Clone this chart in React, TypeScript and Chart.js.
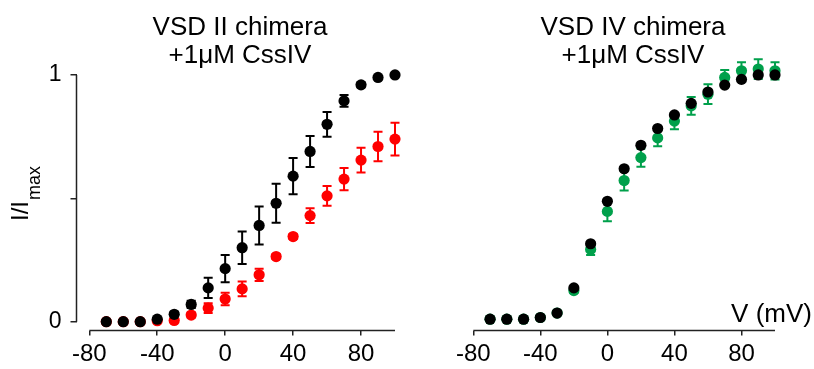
import { useEffect, useRef } from 'react';
import { Chart, registerables } from 'chart.js';

Chart.register(...registerables);

// ---------- data ----------
const voltages = [-70, -60, -50, -40, -30, -20, -10, 0, 10, 20, 30, 40, 50, 60, 70, 80, 90, 100];
const xTickValues = [-80, -40, 0, 40, 80];
const yTickValues = [0, 0.5, 1];

// VSD II chimera
const vsd2Control = [0, 0, 0, 0.01, 0.03, 0.07, 0.137, 0.215, 0.3, 0.39, 0.48, 0.59, 0.69, 0.8, 0.895, 0.96, 0.99, 1.0];
const vsd2ControlErr = [0, 0, 0, 0, 0.01, 0.015, 0.041, 0.055, 0.066, 0.077, 0.079, 0.073, 0.063, 0.05, 0.024, 0.01, 0, 0];
const vsd2Toxin = [0, 0, 0, 0.004, 0.005, 0.027, 0.055, 0.092, 0.133, 0.19, 0.264, 0.345, 0.43, 0.51, 0.578, 0.655, 0.71, 0.74];
const vsd2ToxinErr = [0, 0, 0, 0, 0, 0.01, 0.02, 0.025, 0.03, 0.025, 0.01, 0.01, 0.03, 0.04, 0.045, 0.05, 0.06, 0.066];

// VSD IV chimera
const vsd4Control = [0.01, 0.01, 0.01, 0.017, 0.035, 0.137, 0.316, 0.488, 0.62, 0.715, 0.783, 0.838, 0.885, 0.931, 0.959, 0.982, 1.0, 1.0];
const vsd4Toxin = [0.01, 0.01, 0.01, 0.017, 0.035, 0.126, 0.293, 0.447, 0.572, 0.665, 0.745, 0.813, 0.875, 0.922, 0.99, 1.017, 1.024, 1.017];
const vsd4ToxinErr = [0, 0, 0, 0, 0, 0.01, 0.023, 0.04, 0.04, 0.037, 0.034, 0.033, 0.036, 0.04, 0.03, 0.035, 0.04, 0.035];

const titleLine1 = ['VSD II chimera', 'VSD IV chimera'];
const titleLine2 = '+1\u03BCM CssIV';
const yTitleMain = 'I/I';
const yTitleSub = 'max';
const xTitle = 'V (mV)';

const FONT = '"Liberation Sans", Arial, Helvetica, sans-serif';
const BLACK = '#000000';
const RED = '#ff0000';
const GREEN = '#00a04b';

type Series = { values: number[]; errors?: number[]; color: string };

function toPoints(values: number[]) {
  return voltages.map((v, i) => ({ x: v, y: values[i] }));
}

const errorBarPlugin = {
  id: 'errorBars',
  beforeDatasetsDraw(chart: any) {
    const ctx = chart.ctx;
    const xs = chart.scales.x;
    const ys = chart.scales.y;
    const dsets = chart.data.datasets.slice().reverse();
    dsets.forEach((ds: any) => {
      const errs: number[] | undefined = ds.errors;
      if (!errs) return;
      ctx.save();
      ctx.strokeStyle = ds.backgroundColor;
      ctx.lineWidth = 2;
      ds.data.forEach((p: any, i: number) => {
        const e = errs[i];
        if (!e) return;
        const x = xs.getPixelForValue(p.x);
        const y1 = ys.getPixelForValue(p.y + e);
        const y2 = ys.getPixelForValue(p.y - e);
        ctx.beginPath();
        ctx.moveTo(x, y1);
        ctx.lineTo(x, y2);
        ctx.moveTo(x - 4.5, y1);
        ctx.lineTo(x + 4.5, y1);
        ctx.moveTo(x - 4.5, y2);
        ctx.lineTo(x + 4.5, y2);
        ctx.stroke();
      });
      ctx.restore();
    });
  },
};

type PanelSpec = {
  width: number;
  series: Series[];
  title: string;
  titleX: number;
  showYAxis: boolean;
  xMin: number;
  padLeft: number;
  padRight: number;
  showXTitle: boolean;
};

function buildChart(canvas: HTMLCanvasElement, spec: PanelSpec) {
  const panelPlugin = {
    id: 'panelDecor',
    afterDraw(chart: any) {
      const ctx = chart.ctx;
      const xs = chart.scales.x;
      const ys = chart.scales.y;
      const area = chart.chartArea;
      ctx.save();
      // axis lines
      ctx.strokeStyle = '#222';
      ctx.lineWidth = 1.5;
      ctx.beginPath();
      ctx.moveTo(xs.getPixelForValue(-80), area.bottom);
      ctx.lineTo(xs.getPixelForValue(100), area.bottom);
      if (spec.showYAxis) {
        ctx.moveTo(area.left, ys.getPixelForValue(0));
        ctx.lineTo(area.left, ys.getPixelForValue(1));
      }
      ctx.stroke();

      // titles
      ctx.fillStyle = '#000';
      ctx.font = `26px ${FONT}`;
      ctx.textAlign = 'center';
      ctx.textBaseline = 'alphabetic';
      ctx.fillText(spec.title, spec.titleX, 35);
      ctx.fillText(titleLine2, spec.titleX, 63);

      if (spec.showXTitle) {
        ctx.textAlign = 'right';
        ctx.fillText(xTitle, chart.width - 2, 322);
      }

      if (spec.showYAxis) {
        ctx.translate(28, 221);
        ctx.rotate(-Math.PI / 2);
        ctx.textAlign = 'left';
        ctx.font = `24px ${FONT}`;
        ctx.fillText(yTitleMain, 0, 0);
        const w = ctx.measureText(yTitleMain).width;
        ctx.font = `18px ${FONT}`;
        ctx.fillText(yTitleSub, w + 1, 12);
      }
      ctx.restore();
    },
  };

  const yMin = -0.0357;
  const yMax = 1.1;

  return new Chart(canvas, {
    type: 'scatter',
    data: {
      datasets: spec.series.map((s) => ({
        data: toPoints(s.values),
        errors: s.errors,
        backgroundColor: s.color,
        borderColor: s.color,
        borderWidth: 0,
        pointRadius: 5.6,
        pointHoverRadius: 5.6,
        showLine: false,
        clip: false,
      })) as any,
    },
    options: {
      animation: false,
      responsive: false,
      devicePixelRatio: 1,
      layout: { padding: { left: spec.padLeft, right: spec.padRight, top: 50.3, bottom: 0 } },
      plugins: {
        legend: { display: false },
        title: { display: false },
        tooltip: { enabled: false },
      },
      scales: {
        x: {
          type: 'linear',
          position: 'bottom',
          min: spec.xMin,
          max: 100,
          afterBuildTicks: (s: any) => {
            s.ticks = xTickValues.map((v) => ({ value: v }));
          },
          afterFit: (s: any) => {
            s.height = 38.5;
          },
          grid: {
            display: true,
            drawOnChartArea: false,
            drawTicks: true,
            tickLength: 5,
            color: '#222',
            lineWidth: 1.5,
          },
          border: { display: false },
          ticks: {
            color: '#000',
            font: { family: FONT, size: 24 },
            padding: 4,
            maxRotation: 0,
            autoSkip: false,
            callback: (v: any) => String(v),
          },
        },
        y: {
          type: 'linear',
          display: spec.showYAxis,
          min: yMin,
          max: yMax,
          afterBuildTicks: (s: any) => {
            s.ticks = yTickValues.map((v) => ({ value: v }));
          },
          afterFit: (s: any) => {
            s.width = spec.showYAxis ? 76.5 : 0;
          },
          grid: {
            display: true,
            drawOnChartArea: false,
            drawTicks: true,
            tickLength: 6,
            color: '#222',
            lineWidth: 1.5,
          },
          border: { display: false },
          ticks: {
            color: '#000',
            font: { family: FONT, size: 23 },
            padding: 9,
            autoSkip: false,
            callback: (v: any) => (v === 0.5 ? '' : String(v)),
          },
        },
      },
    } as any,
    plugins: [errorBarPlugin, panelPlugin],
  });
}

function Panel({ spec, left }: { spec: PanelSpec; left: number }) {
  const ref = useRef<HTMLCanvasElement | null>(null);
  useEffect(() => {
    if (!ref.current) return;
    const chart = buildChart(ref.current, spec);
    return () => chart.destroy();
  }, []);
  return (
    <canvas
      ref={ref}
      width={spec.width}
      height={369}
      style={{ position: 'absolute', left, top: 0, width: spec.width, height: 369 }}
    />
  );
}

const leftSpec: PanelSpec = {
  width: 410,
  series: [
    { values: vsd2Control, errors: vsd2ControlErr, color: BLACK },
    { values: vsd2Toxin, errors: vsd2ToxinErr, color: RED },
  ],
  title: titleLine1[0],
  titleX: 240,
  showYAxis: true,
  xMin: -80 - 12.8 / 1.698,
  padLeft: 0,
  padRight: 15,
  showXTitle: false,
};

const rightSpec: PanelSpec = {
  width: 404,
  series: [
    { values: vsd4Control, color: BLACK },
    { values: vsd4Toxin, errors: vsd4ToxinErr, color: GREEN },
  ],
  title: titleLine1[1],
  titleX: 223,
  showYAxis: false,
  xMin: -80,
  padLeft: 63.3,
  padRight: 39,
  showXTitle: true,
};

export default function App() {
  return (
    <div
      style={{
        position: 'fixed',
        left: 0,
        top: 0,
        width: 814,
        height: 369,
        background: '#fff',
        overflow: 'hidden',
      }}
    >
      <Panel spec={leftSpec} left={0} />
      <Panel spec={rightSpec} left={410} />
    </div>
  );
}
